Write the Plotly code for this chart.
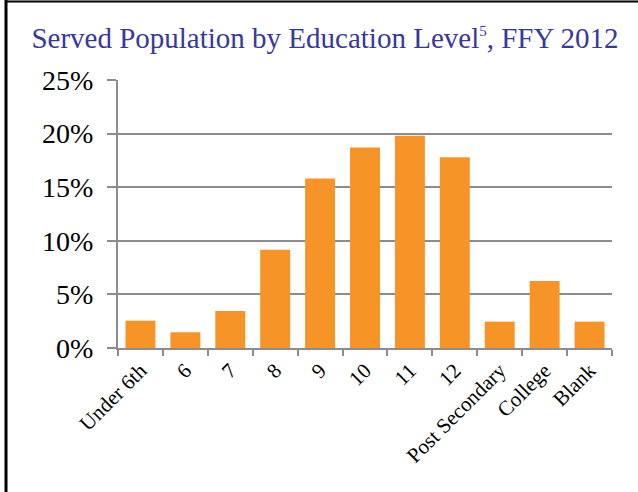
import plotly.graph_objects as go

categories = ["Under 6th", "6", "7", "8", "9", "10", "11", "12", "Post Secondary", "College", "Blank"]
values = [0.0255, 0.0147, 0.0346, 0.0916, 0.158, 0.187, 0.198, 0.178, 0.0246, 0.0626, 0.0246]
y_ticks = [0, 0.05, 0.10, 0.15, 0.20, 0.25]
y_tick_labels = ["0%", "5%", "10%", "15%", "20%", "25%"]

W, H = 638, 492
L, R, T, B = 118, 26, 80, 144

fig = go.Figure(go.Bar(x=categories, y=values, marker=dict(color="#F79428", line=dict(width=0)), width=0.667))

pw = W - L - R
ph = H - T - B
def px_x(x):
    return (x - L) / pw
def px_y(y):
    return (H - B - y) / ph

fig.update_layout(
    width=W, height=H,
    margin=dict(l=L, r=R, t=T, b=B, autoexpand=False),
    paper_bgcolor="white", plot_bgcolor="white",
    showlegend=False,
    title=dict(text="Served Population by Education Level<sup><span style='font-size:15px'>5</span></sup>, FFY 2012",
               x=325 / W, xanchor="center", y=1 - 38 / H, yanchor="middle",
               font=dict(family="Liberation Serif", size=29, color="#38389C")),
    font=dict(family="Liberation Serif", color="black"),
    xaxis=dict(showline=True, linecolor="#8C8C8C", linewidth=2, ticks="outside",
               tickson="boundaries", ticklen=6, tickwidth=2, tickcolor="#8C8C8C",
               tickangle=-45, tickfont=dict(family="Liberation Serif", size=21, color="black"),
               showgrid=False),
    yaxis=dict(range=[0, 0.25], tickvals=y_ticks, ticktext=y_tick_labels,
               showline=True, linecolor="#8C8C8C", linewidth=2, ticks="outside",
               ticklen=9, tickwidth=2, tickcolor="#8C8C8C", ticklabelstandoff=8,
               showgrid=True, gridcolor="#8C8C8C", gridwidth=2, zeroline=False,
               tickfont=dict(family="Liberation Serif", size=28, color="black")),
    shapes=[
        dict(type="line", xref="paper", yref="paper", x0=px_x(6), x1=px_x(6), y0=px_y(0), y1=px_y(H + 5),
             line=dict(color="black", width=3)),
        dict(type="line", xref="paper", yref="paper", x0=px_x(5), x1=px_x(W + 5), y0=px_y(1.5), y1=px_y(1.5),
             line=dict(color="black", width=2)),
    ],
)

fig.write_html("out.html", config={"displayModeBar": False},
               post_script="document.body.style.margin='0';")
